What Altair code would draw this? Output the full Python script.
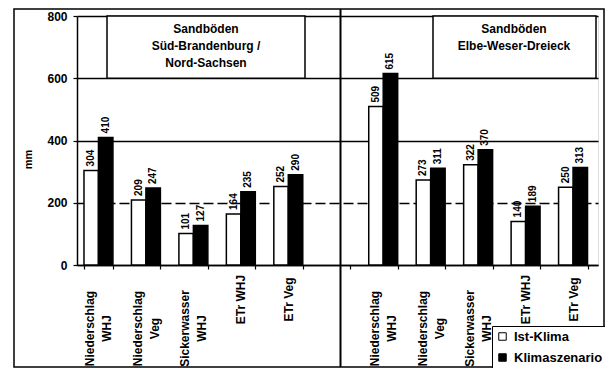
import altair as alt
import pandas as pd

FONT = "Liberation Sans"

# --- data -------------------------------------------------------------
categories = ["Niederschlag|WHJ", "Niederschlag|Veg", "Sickerwasser|WHJ", "ETr WHJ", "ETr Veg"]
series = ["Ist-Klima", "Klimaszenario"]

ist_sued = [304, 209, 101, 164, 252]
klima_sued = [410, 247, 127, 235, 290]
ist_elbe = [509, 273, 322, 140, 250]
klima_elbe = [615, 311, 370, 189, 313]

box_left = "Sandböden\nSüd-Brandenburg /\nNord-Sachsen"
box_right = "Sandböden\nElbe-Weser-Dreieck"

keys_s = ["S|" + c for c in categories]
keys_e = ["E|" + c for c in categories]
x_domain = keys_s + ["gap"] + keys_e

rows = []
for k, a, b in zip(keys_s, ist_sued, klima_sued):
    rows.append({"key": k, "series": series[0], "value": a})
    rows.append({"key": k, "series": series[1], "value": b})
for k, a, b in zip(keys_e, ist_elbe, klima_elbe):
    rows.append({"key": k, "series": series[0], "value": a})
    rows.append({"key": k, "series": series[1], "value": b})
df = pd.DataFrame(rows)

W, H = 521, 249

label_expr = "datum.value == 'gap' ? '' : slice(split(datum.value, '|'), 1)"
two_lines = "length(split(datum.value, '|')) > 2"

x_enc = alt.X(
    "key:N",
    sort=x_domain,
    scale=alt.Scale(domain=x_domain, paddingInner=0.39, paddingOuter=0.184, align=0.4),
    axis=alt.Axis(
        title=None,
        labelExpr=label_expr,
        labelAngle=270,
        labelAlign="center",
        labelBaseline="middle",
        labelPadding=alt.ConditionalAxisNumber(
            condition={"test": two_lines, "value": 59}, value=30
        ),
        labelLineHeight=17,
        labelOffset=alt.ConditionalAxisNumber(
            condition={"test": two_lines, "value": -8.5}, value=0
        ),
        labelFontSize=12,
        labelFontWeight="bold",
        labelFont=FONT,
        labelColor="black",
        labelLimit=200,
        tickBand="extent",
        tickSize=4,
        tickColor="black",
        tickWidth=1.2,
        domainColor="black",
        domainWidth=1.5,
        grid=False,
    ),
)
y_enc = alt.Y(
    "value:Q",
    scale=alt.Scale(domain=[0, 800], nice=False),
    axis=alt.Axis(
        values=[0, 200, 400, 600, 800],
        title="mm",
        titleFont=FONT,
        titleFontSize=11,
        titleFontWeight="bold",
        titleAngle=270,
        titleX=-49,
        titleY=143,
        titleAlign="center",
        titleBaseline="middle",
        labelFont=FONT,
        labelFontSize=12,
        labelFontWeight="bold",
        labelColor="black",
        labelPadding=6,
        tickSize=4,
        tickColor="black",
        tickWidth=1.2,
        domainColor="black",
        domainWidth=1.5,
        grid=True,
        gridColor="black",
        gridWidth=1.5,
        gridOpacity=1,
        gridDash=alt.ConditionalAxisNumberArray(
            condition={"test": "datum.value == 200", "value": [10, 4]}, value=[]
        ),
    ),
)

base = alt.Chart(df)

bars = base.mark_bar(stroke="black", strokeWidth=1.5).encode(
    x=x_enc,
    xOffset=alt.XOffset("series:N", sort=series, scale=alt.Scale(paddingInner=0, paddingOuter=0)),
    y=y_enc,
    fill=alt.Fill(
        "series:N",
        scale=alt.Scale(domain=series, range=["white", "black"]),
        legend=alt.Legend(
            orient="none",
            legendX=415,
            legendY=310,
            title=None,
            strokeColor="black",
            fillColor="white",
            padding=4,
            symbolType="square",
            symbolSize=56,
            symbolStrokeColor="black",
            symbolStrokeWidth=1,
            symbolOffset=0,
            labelOffset=5,
            labelFont=FONT,
            labelFontSize=13,
            labelFontWeight="bold",
            labelColor="black",
            rowPadding=7,
            labelLimit=200,
        ),
    ),
)

labels = base.mark_text(
    angle=270, align="left", baseline="middle", dx=4,
    font=FONT, fontSize=10, fontWeight="bold", color="black",
).encode(
    x=alt.X("key:N", sort=x_domain),
    xOffset=alt.XOffset("series:N", sort=series),
    y=alt.Y("value:Q"),
    text=alt.Text("value:Q"),
)

box_df = pd.DataFrame({"t": [box_left]})
box_df2 = pd.DataFrame({"t": [box_right]})

box1 = alt.Chart(box_df).mark_rect(fill="white", stroke="black", strokeWidth=1.5).encode(
    x=alt.value(30), x2=alt.value(228), y=alt.Y(datum=600), y2=alt.Y2(datum=800)
)
box2 = alt.Chart(box_df2).mark_rect(fill="white", stroke="black", strokeWidth=1.5).encode(
    x=alt.value(356), x2=alt.value(519), y=alt.Y(datum=600), y2=alt.Y2(datum=800)
)
txt1 = alt.Chart(box_df).mark_text(
    lineBreak="\n", lineHeight=17, align="center", baseline="top",
    font=FONT, fontSize=12, fontWeight="bold", color="black",
).encode(x=alt.value(129), y=alt.value(8), text="t:N")
txt2 = alt.Chart(box_df2).mark_text(
    lineBreak="\n", lineHeight=17, align="center", baseline="top",
    font=FONT, fontSize=12, fontWeight="bold", color="black",
).encode(x=alt.value(437), y=alt.value(8), text="t:N")

divider = alt.Chart(box_df).mark_rule(color="black", strokeWidth=2).encode(
    x=alt.value(263.5), y=alt.value(-7), y2=alt.value(351)
)
frame = alt.Chart(box_df).mark_rect(fill=None, stroke="black", strokeWidth=1.5).encode(
    x=alt.value(-63), x2=alt.value(527), y=alt.value(-7), y2=alt.value(351)
)

chart = (
    alt.layer(box1, box2, txt1, txt2, bars, labels, divider, frame)
    .properties(
        width=W,
        height=H,
        autosize=alt.AutoSizeParams(type="none"),
        padding={"left": 69, "top": 8, "right": 7, "bottom": 103},
    )
    .configure_view(stroke="black", strokeWidth=1.5)
    .configure(background="white")
)

chart.save("out.html", embed_options={"renderer": "svg", "actions": False})
